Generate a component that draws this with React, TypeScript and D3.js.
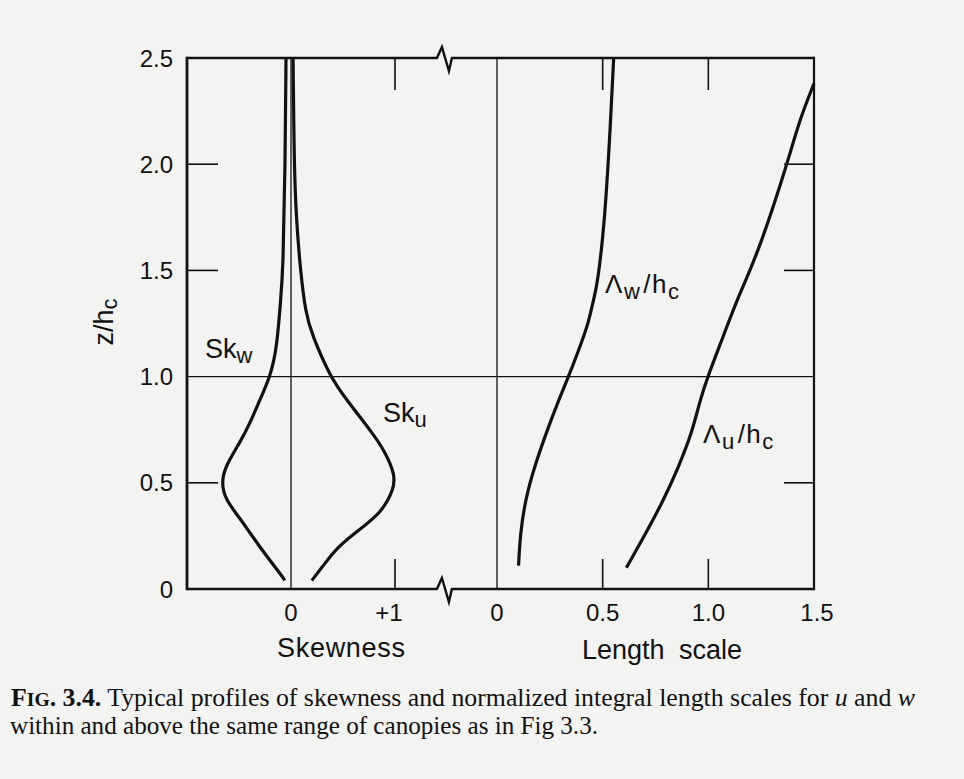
import React from 'react';
import * as d3 from 'd3';

// ---- data ----
const Z_TICKS = [0, 0.5, 1.0, 1.5, 2.0, 2.5];
const Z_LABELS = ['0', '0.5', '1.0', '1.5', '2.0', '2.5'];
const SKEW_TICKS = [0, 1];
const SKEW_LABELS = ['0', '+1'];
const LEN_TICKS = [0, 0.5, 1.0, 1.5];
const LEN_LABELS = ['0', '0.5', '1.0', '1.5'];

// Skewness of w
const SKW_Z = [0.04, 0.05, 0.21, 0.34, 0.42, 0.5, 0.58, 0.69, 0.78, 0.89, 1.0, 1.13, 1.36, 1.5, 2.0, 2.5, 2.5];
const SKW = [-0.06, -0.07, -0.32, -0.5, -0.63, -0.67, -0.63, -0.49, -0.395, -0.3, -0.2, -0.137, -0.1, -0.076, -0.056, -0.048, -0.048];
// Skewness of u
const SKU_Z = [0.04, 0.04, 0.1, 0.2, 0.28, 0.36, 0.47, 0.54, 0.65, 0.73, 0.89, 1.0, 1.2, 1.3, 1.5, 1.75, 2.0, 2.5, 2.5];
const SKU = [0.2, 0.2, 0.295, 0.45, 0.66, 0.87, 0.99, 1.0, 0.9, 0.79, 0.535, 0.375, 0.2, 0.14, 0.09, 0.05, 0.03, 0.02, 0.02];
// Length scale of w
const LW_Z = [0.11, 0.11, 0.26, 0.42, 0.575, 0.733, 0.89, 1.0, 1.2, 1.27, 1.36, 1.43, 1.74, 2.21, 2.5, 2.5];
const LW = [0.102, 0.102, 0.11, 0.134, 0.177, 0.232, 0.292, 0.339, 0.415, 0.436, 0.456, 0.475, 0.511, 0.538, 0.552, 0.552];
// Length scale of u
const LU_Z = [0.1, 0.1, 0.26, 0.42, 0.575, 0.733, 0.89, 1.0, 1.2, 1.36, 1.58, 1.99, 2.21, 2.38, 2.38];
const LU = [0.612, 0.612, 0.703, 0.789, 0.859, 0.922, 0.961, 0.997, 1.075, 1.134, 1.235, 1.37, 1.432, 1.5, 1.5];

const W = 964;
const H = 779;
const INK = '#111111';
const SANS = '"Liberation Sans", Arial, Helvetica, sans-serif';
const SERIF = '"Liberation Serif", "Times New Roman", serif';

export default function App() {
  const y = d3.scaleLinear().domain([0, 2.5]).range([589, 58]);
  const sk = d3.scaleLinear().domain([-1, 1]).range([187, 395]);
  const len = d3.scaleLinear().domain([0, 1.5]).range([497, 814]);

  const left = sk(-1);
  const right = len(1.5);
  const top = y(2.5);
  const bottom = y(0);
  const breakX = sk(1.48);

  const skLine = d3
    .line<[number, number]>()
    .x((d) => sk(d[0]))
    .y((d) => y(d[1]))
    .curve(d3.curveBasis);
  const lenLine = d3
    .line<[number, number]>()
    .x((d) => len(d[0]))
    .y((d) => y(d[1]))
    .curve(d3.curveBasis);

  const zip = (xs: number[], zs: number[]) => xs.map((v, i) => [v, zs[i]] as [number, number]);

  const zig = (yy: number) =>
    `M${left},${yy}H${breakX - 8}L${breakX - 3},${yy - 11}L${breakX + 4},${yy + 13}L${breakX + 7},${yy}H${right}`;

  const tickLen = 30;

  return (
    <div style={{ position: 'absolute', left: 0, top: 0, width: W, height: H, background: '#f3f3f1' }}>
      <svg width={W} height={H} style={{ display: 'block' }}>
        <rect x={0} y={0} width={W} height={H} fill="#f3f3f1" />
        {/* inner reference lines */}
        <line x1={left} x2={right} y1={y(1)} y2={y(1)} stroke={INK} strokeWidth={1.3} />
        <line x1={sk(0)} x2={sk(0)} y1={top} y2={bottom} stroke={INK} strokeWidth={1.3} />
        <line x1={len(0)} x2={len(0)} y1={top} y2={bottom} stroke={INK} strokeWidth={1.3} />

        {/* frame */}
        <path d={zig(top)} fill="none" stroke={INK} strokeWidth={2.4} />
        <path d={zig(bottom)} fill="none" stroke={INK} strokeWidth={2.4} />
        <line x1={left} x2={left} y1={top - 1.2} y2={bottom + 1.2} stroke={INK} strokeWidth={2.8} />
        <line x1={right} x2={right} y1={top - 1.2} y2={bottom + 1.2} stroke={INK} strokeWidth={2.2} />

        {/* y ticks */}
        {Z_TICKS.filter((t) => t > 0 && t < 2.5 && t !== 1).map((t) => (
          <g key={'yt' + t}>
            <line x1={left} x2={left + tickLen + 1} y1={y(t)} y2={y(t)} stroke={INK} strokeWidth={1.6} />
            <line x1={right - tickLen} x2={right} y1={y(t)} y2={y(t)} stroke={INK} strokeWidth={1.6} />
          </g>
        ))}
        {Z_TICKS.map((t, i) => (
          <text key={'yl' + t} x={173} y={y(t) + 8.5} textAnchor="end" fontFamily={SANS} fontSize={24} fill={INK}>
            {Z_LABELS[i]}
          </text>
        ))}

        {/* skewness ticks */}
        {SKEW_TICKS.filter((t) => t !== 0).map((t) => (
          <g key={'st' + t}>
            <line x1={sk(t)} x2={sk(t)} y1={top} y2={top + tickLen + 2} stroke={INK} strokeWidth={1.6} />
            <line x1={sk(t)} x2={sk(t)} y1={bottom} y2={bottom - tickLen} stroke={INK} strokeWidth={1.6} />
          </g>
        ))}
        {SKEW_TICKS.map((t, i) => (
          <text key={'sl' + t} x={sk(t) - (t === 1 ? 6 : 0)} y={621} textAnchor="middle" fontFamily={SANS} fontSize={24} fill={INK}>
            {SKEW_LABELS[i]}
          </text>
        ))}

        {/* length ticks */}
        {LEN_TICKS.filter((t) => t > 0 && t < 1.5).map((t) => (
          <g key={'lt' + t}>
            <line x1={len(t)} x2={len(t)} y1={top} y2={top + tickLen + 2} stroke={INK} strokeWidth={1.6} />
            <line x1={len(t)} x2={len(t)} y1={bottom} y2={bottom - tickLen} stroke={INK} strokeWidth={1.6} />
          </g>
        ))}
        {LEN_TICKS.map((t, i) => (
          <text key={'ll' + t} x={len(t) + (t === 1.5 ? 3 : 0)} y={621} textAnchor="middle" fontFamily={SANS} fontSize={24} fill={INK}>
            {LEN_LABELS[i]}
          </text>
        ))}

        {/* curves */}
        <path d={skLine(zip(SKW, SKW_Z)) || ''} fill="none" stroke={INK} strokeWidth={3.2} />
        <path d={skLine(zip(SKU, SKU_Z)) || ''} fill="none" stroke={INK} strokeWidth={3.2} />
        <path d={lenLine(zip(LW, LW_Z)) || ''} fill="none" stroke={INK} strokeWidth={3.2} />
        <path d={lenLine(zip(LU, LU_Z)) || ''} fill="none" stroke={INK} strokeWidth={3.2} />

        {/* curve labels */}
        <text x={205} y={358} fontFamily={SANS} fontSize={27} fill={INK}>
          Sk<tspan fontSize={22} dy={5}>w</tspan>
        </text>
        <text x={383} y={422} fontFamily={SANS} fontSize={27} fill={INK}>
          Sk<tspan fontSize={22} dy={5}>u</tspan>
        </text>
        <text x={605} y={293} fontFamily={SANS} fontSize={26} fill={INK} style={{ letterSpacing: '1.5px' }}>
          Λ<tspan fontSize={22} dy={6}>w</tspan>
          <tspan dx={2} dy={-6}>/h</tspan>
          <tspan fontSize={22} dy={6}>c</tspan>
        </text>
        <text x={703} y={443} fontFamily={SANS} fontSize={26} fill={INK} style={{ letterSpacing: '1.5px' }}>
          Λ<tspan fontSize={22} dy={6}>u</tspan>
          <tspan dx={2} dy={-6}>/h</tspan>
          <tspan fontSize={22} dy={6}>c</tspan>
        </text>

        {/* axis titles */}
        <text transform="translate(113,322) rotate(-90)" textAnchor="middle" fontFamily={SANS} fontSize={27} fill={INK}>
          z/h<tspan fontSize={22} dy={4}>c</tspan>
        </text>
        <text x={341} y={657} textAnchor="middle" fontFamily={SANS} fontSize={27} fill={INK} textLength={128}>
          Skewness
        </text>
        <text x={662} y={659} textAnchor="middle" fontFamily={SANS} fontSize={27} fill={INK} style={{ wordSpacing: '7px' }}>
          Length scale
        </text>

        {/* caption */}
        <text x={11} y={706} fontFamily={SERIF} fontSize={25} fill={INK} textLength={904} lengthAdjust="spacingAndGlyphs">
          <tspan fontWeight="bold">F</tspan>
          <tspan fontWeight="bold" fontSize={19}>IG</tspan>
          <tspan fontWeight="bold">. 3.4.</tspan>
          <tspan>{'  Typical profiles of skewness and normalized integral length scales for '}</tspan>
          <tspan fontStyle="italic">u</tspan>
          <tspan>{' and '}</tspan>
          <tspan fontStyle="italic">w</tspan>
        </text>
        <text x={10} y={734} fontFamily={SERIF} fontSize={25} fill={INK} textLength={588} lengthAdjust="spacingAndGlyphs">
          within and above the same range of canopies as in Fig 3.3.
        </text>
      </svg>
    </div>
  );
}
